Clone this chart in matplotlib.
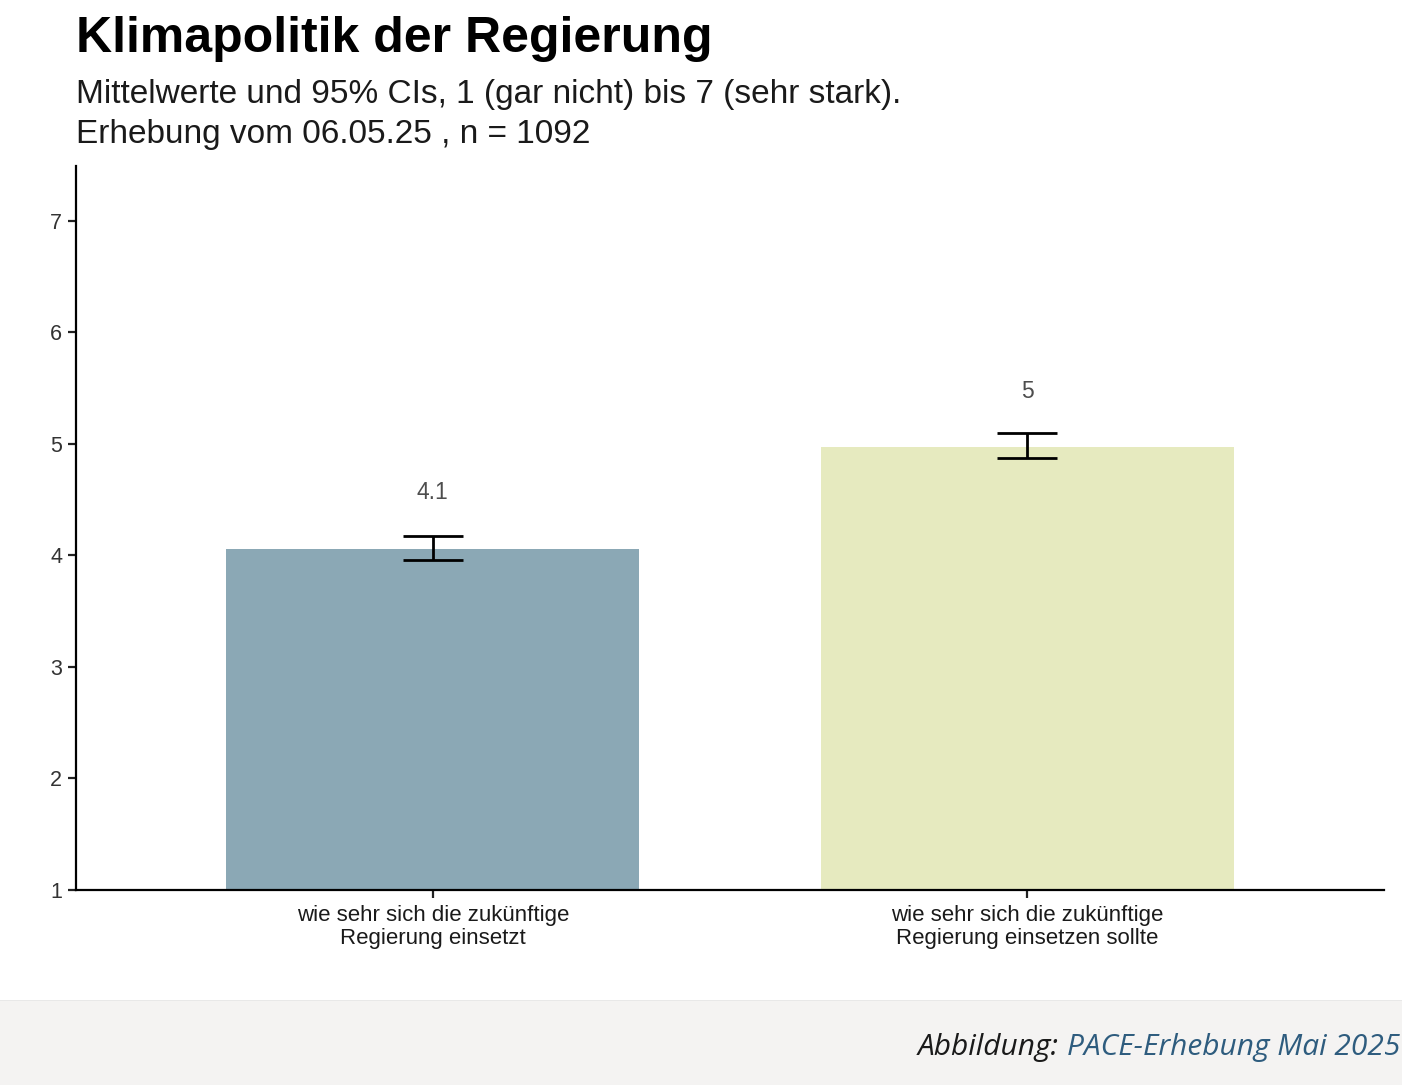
import matplotlib
matplotlib.use("Agg")
import matplotlib.pyplot as plt
from matplotlib.patches import Rectangle

categories = ["wie sehr sich die zukünftige\nRegierung einsetzt",
              "wie sehr sich die zukünftige\nRegierung einsetzen sollte"]
means = [4.06, 4.97]
ci_low = [3.96, 4.87]
ci_high = [4.17, 5.10]
value_labels = ["4.1", "5"]
colors = ["#8BA8B5", "#E6EABF"]
yticks = [1, 2, 3, 4, 5, 6, 7]

W, H = 1402, 1085
fig = plt.figure(figsize=(W / 100, H / 100), dpi=100)
fig.patch.set_facecolor("white")

ax = fig.add_axes([76 / W, 1 - 890 / H, (1384 - 76) / W, (890 - 166) / H])
x = [1, 2]
ax.bar(x, [m - 1 for m in means], bottom=1, width=0.695, color=colors, zorder=1)
yerr = [[m - l for m, l in zip(means, ci_low)], [h - m for m, h in zip(means, ci_high)]]
ax.errorbar(x, means, yerr=yerr, fmt="none", ecolor="black", elinewidth=2,
            capsize=21.5, capthick=2, zorder=3)
for xi, m, lab in zip(x, means, value_labels):
    ax.text(xi, m + 0.5, lab, ha="center", va="center", fontsize=16.5,
            color="#4D4D4D", family="Liberation Sans")

ax.set_xlim(0.4, 2.6)
ax.set_ylim(1, 7.49)
ax.set_xticks(x)
ax.set_xticklabels(categories, fontsize=16, family="Liberation Sans",
                   color="#1a1a1a", linespacing=1.12)
ax.set_yticks(yticks)
ax.set_yticklabels([str(t) for t in yticks], fontsize=15.5,
                   family="Liberation Sans", color="#333333")
for s in ["top", "right"]:
    ax.spines[s].set_visible(False)
for s in ["left", "bottom"]:
    ax.spines[s].set_linewidth(1.6)
    ax.spines[s].set_color("black")
ax.tick_params(axis="both", length=6, width=1.6, color="#222222", direction="out")
ax.tick_params(axis="y", pad=4)
ax.tick_params(axis="x", pad=5)

fig.text(76 / W, 1 - 39 / H, "Klimapolitik der Regierung", fontsize=36,
         fontweight="bold", family="Liberation Sans", va="center", ha="left",
         color="black")
fig.text(76 / W, 1 - 95 / H, "Mittelwerte und 95% CIs, 1 (gar nicht) bis 7 (sehr stark).",
         fontsize=24, family="Liberation Sans", va="center", ha="left", color="#1a1a1a")
fig.text(76 / W, 1 - 135 / H, "Erhebung vom 06.05.25 , n = 1092",
         fontsize=24, family="Liberation Sans", va="center", ha="left", color="#1a1a1a")

# footer
fig.patches.append(Rectangle((0, 0), 1, (H - 1000) / H, transform=fig.transFigure,
                             facecolor="#F4F3F2", edgecolor="none", zorder=0))
fig.patches.append(Rectangle((0, (H - 1001) / H), 1, 1.5 / H, transform=fig.transFigure,
                             facecolor="#E8E8E8", edgecolor="none", zorder=0))
t2 = fig.text(1400 / W, 1 - 1048 / H, "PACE-Erhebung Mai 2025", fontsize=21.5,
              style="italic", family="Open Sans", color="#2E5C7E", ha="right", va="center")
fig.canvas.draw()
bb = t2.get_window_extent(fig.canvas.get_renderer())
fig.text((bb.x0 - 8) / W, 1 - 1048 / H, "Abbildung:", fontsize=21.5, style="italic",
         family="Open Sans", color="#1a1a1a", ha="right", va="center")

fig.savefig("out.png", dpi=100)
